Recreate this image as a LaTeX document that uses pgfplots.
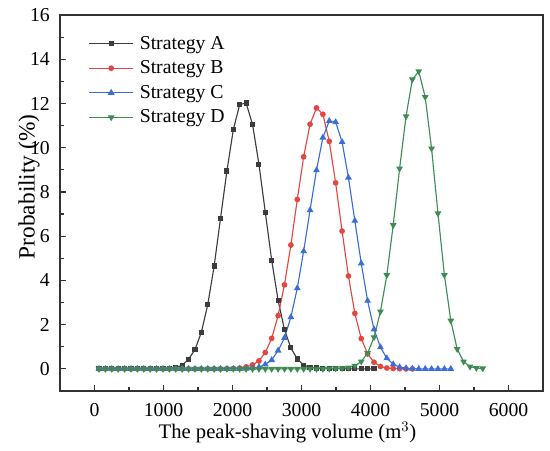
\documentclass[border=0pt]{standalone}
\usepackage{pgfplots}
\pgfplotsset{compat=1.18}
\usepackage{fontspec}
\setmainfont{Liberation Serif}
\usetikzlibrary{calc}
\definecolor{cA}{RGB}{60,60,60}
\definecolor{cB}{RGB}{228,70,65}
\definecolor{cC}{RGB}{58,110,214}
\definecolor{cD}{RGB}{62,140,82}
\definecolor{axc}{RGB}{50,50,50}
\begin{document}
\begin{tikzpicture}[font=\fontsize{14.8}{17}\selectfont]
\begin{axis}[
  scale only axis,
  width=362.25pt, height=282pt,
  xmin=-500, xmax=6500, ymin=-1, ymax=16,
  xtick={0,1000,2000,3000,4000,5000,6000},
  minor xtick={-500,500,1500,2500,3500,4500,5500,6500},
  ytick={0,2,4,6,8,10,12,14,16},
  minor ytick={-1,1,3,5,7,9,11,13,15},
  tick align=inside,
  xtick pos=bottom, ytick pos=left,
  major tick length=4.5pt, minor tick length=3pt,
  every tick/.style={axc, line width=0.9pt},
  axis line style={axc, line width=1.1pt},
  /pgf/number format/assume math mode=true,
  /pgf/number format/set thousands separator={},
  xticklabel style={font=\fontsize{14.8}{17}\selectfont, anchor=base, inner sep=0pt, yshift=-18.8pt},
  yticklabel style={font=\fontsize{14.8}{17}\selectfont, anchor=east, inner sep=0pt, xshift=-7.5pt},
  xlabel={The peak-shaving volume (m$^3$)},
  ylabel={Probability (\%)},
  xlabel style={font=\fontsize{15.5}{18}\selectfont, inner sep=0pt, at={(axis description cs:0.471,-0.1270)}, anchor=base},
  ylabel style={font=\fontsize{17.5}{20}\selectfont, inner sep=0pt, at={(axis description cs:-0.064,0.543)}, anchor=center},
  legend style={draw=none, fill=none, at={(0.056,0.955)}, anchor=north west,
    font=\fontsize{14.8}{17}\selectfont, row sep=3.1pt, inner sep=1pt},
  legend cell align=left,
  legend image code/.code={\draw[mark repeat=2,mark phase=2] plot coordinates {(0pt,0pt) (16.5pt,0pt) (33pt,0pt)};\path (35.5pt,0pt);},
  every axis plot/.append style={line width=0.85pt},
]
\addplot[cA, mark=square*, mark size=1.5pt] coordinates {
(65,0)(158,0)(250,0)(343,0)(436,0)(529,0)(621,0)(714,0)(807,0)(899,0)(992,0.01)(1085,0.03)(1177,0.07)(1270,0.16)(1363,0.44)(1456,0.87)(1548,1.65)(1641,2.9)(1734,4.65)(1826,6.8)(1919,8.95)(2012,10.82)(2104,11.95)(2197,12.02)(2290,11.06)(2383,9.26)(2475,7.09)(2568,4.91)(2661,3.1)(2753,1.78)(2846,0.95)(2939,0.45)(3031,0.17)(3124,0.08)(3217,0.04)(3310,0.02)(3402,0.01)(3495,0)(3588,0)(3680,0)(3773,0)(3866,0)(3958,0)(4051,0)};
\addlegendentry{Strategy A}
\addplot[cB, mark=*, mark size=1.7pt] coordinates {
(65,0)(158,0)(250,0)(343,0)(436,0)(529,0)(621,0)(714,0)(807,0)(899,0)(992,0)(1085,0)(1177,0)(1270,0)(1363,0)(1456,0)(1548,0)(1641,0)(1734,0)(1826,0)(1919,0.01)(2012,0.02)(2104,0.04)(2197,0.09)(2290,0.18)(2383,0.36)(2475,0.74)(2568,1.38)(2661,2.41)(2753,3.8)(2846,5.6)(2939,7.66)(3031,9.59)(3124,11.06)(3217,11.8)(3310,11.51)(3402,10.29)(3495,8.41)(3588,6.23)(3680,4.2)(3773,2.51)(3866,1.37)(3958,0.68)(4051,0.3)(4144,0.11)(4237,0.04)(4329,0.02)(4422,0.01)(4515,0)(4607,0)};
\addlegendentry{Strategy B}
\addplot[cC, mark=triangle*, mark size=2.1pt] coordinates {
(65,0)(158,0)(250,0)(343,0)(436,0)(529,0)(621,0)(714,0)(807,0)(899,0)(992,0)(1085,0)(1177,0)(1270,0)(1363,0)(1456,0)(1548,0)(1641,0)(1734,0)(1826,0)(1919,0)(2012,0)(2104,0)(2197,0.01)(2290,0.03)(2383,0.08)(2475,0.2)(2568,0.4)(2661,0.83)(2753,1.4)(2846,2.34)(2939,3.65)(3031,5.32)(3124,7.18)(3217,8.98)(3310,10.46)(3402,11.21)(3495,11.16)(3588,10.26)(3680,8.65)(3773,6.7)(3866,4.77)(3958,3.08)(4051,1.79)(4144,0.98)(4237,0.48)(4329,0.21)(4422,0.08)(4515,0.03)(4607,0.01)(4700,0)(4793,0)(4885,0)(4978,0)(5071,0)(5164,0)};
\addlegendentry{Strategy C}
\addplot[cD, mark=triangle*, mark size=2.1pt, every mark/.append style={rotate=180}] coordinates {
(65,0)(158,0)(250,0)(343,0)(436,0)(529,0)(621,0)(714,0)(807,0)(899,0)(992,0)(1085,0)(1177,0)(1270,0)(1363,0)(1456,0)(1548,0)(1641,0)(1734,0)(1826,0)(1919,0)(2012,0)(2104,0)(2197,0)(2290,0)(2383,0)(2475,0)(2568,0)(2661,0)(2753,0)(2846,0)(2939,0)(3031,0)(3124,0)(3217,0)(3310,0)(3402,0.01)(3495,0.02)(3588,0.03)(3680,0.06)(3773,0.14)(3866,0.33)(3958,0.71)(4051,1.43)(4144,2.59)(4237,4.24)(4329,6.5)(4422,9.06)(4515,11.42)(4607,13.09)(4700,13.45)(4793,12.29)(4885,9.96)(4978,7.03)(5071,4.24)(5164,2.18)(5256,0.9)(5349,0.33)(5442,0.1)(5534,0.04)(5627,0.02)};
\addlegendentry{Strategy D}
\end{axis}
\pgfresetboundingbox
\path ([shift={(-45pt,-44.25pt)}]current axis.south west) rectangle ([shift={(5.25pt,11.25pt)}]current axis.north east);
\end{tikzpicture}
\end{document}
